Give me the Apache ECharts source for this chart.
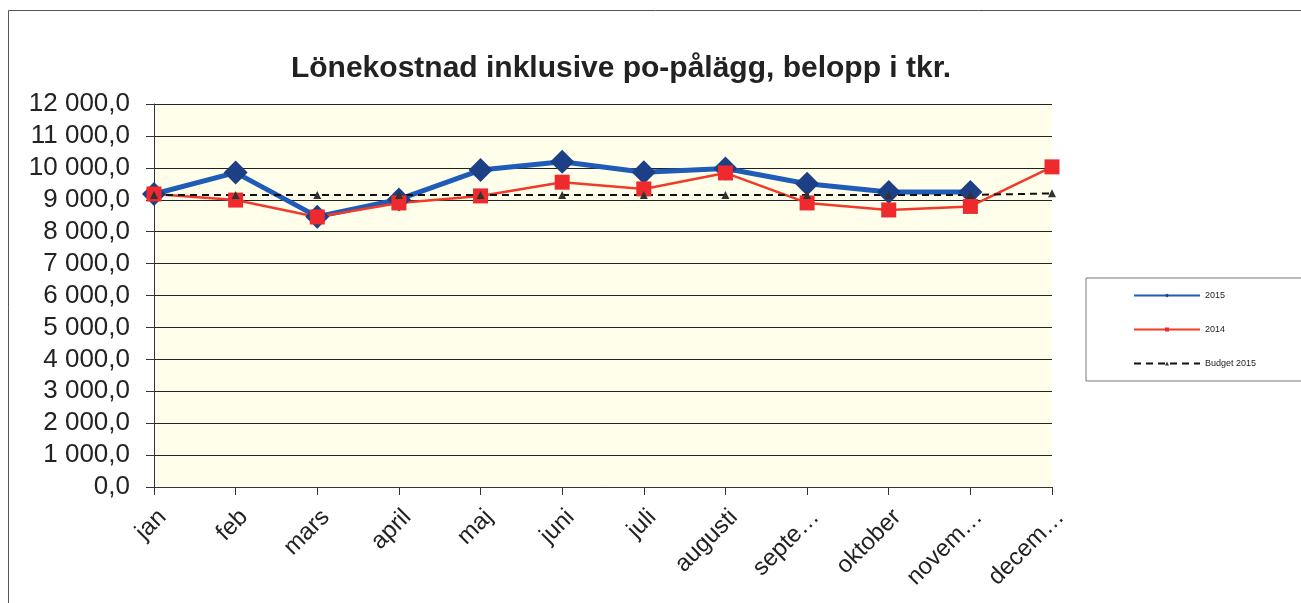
<!DOCTYPE html>
<html>
<head>
<meta charset="utf-8">
<script src="https://cdn.jsdelivr.net/npm/echarts@6/dist/echarts.min.js"></script>
<style>
  html, body { margin: 0; padding: 0; background: #fff; }
  #main { width: 1301px; height: 603px; }
</style>
</head>
<body>
<div id="main"></div>
<script>
// månader (avkortade som i originalet)
var months = ['jan', 'feb', 'mars', 'april', 'maj', 'juni', 'juli', 'augusti', 'septe…', 'oktober', 'novem…', 'decem…'];
var y2015 = [9180, 9850, 8470, 9010, 9930, 10190, 9860, 9980, 9500, 9240, 9240, null];
var y2014 = [9180, 8990, 8460, 8900, 9120, 9550, 9340, 9840, 8900, 8680, 8790, 10030];
var budget2015 = [9150, 9150, 9150, 9150, 9150, 9150, 9150, 9150, 9150, 9150, 9150, 9200];

(function () {
    var myChart = echarts.init(document.querySelector('#main'));

    // 12 000,0
    function fmt(v) {
        var s = String(Math.round(v));
        s = s.replace(/\B(?=(\d{3})+(?!\d))/g, ' ');
        return s + ',0';
    }

    var option = {
        backgroundColor: '#fff',
        animation: false,
        textStyle: { fontFamily: 'Liberation Sans, Arial, sans-serif', color: '#111' },
        title: {
            text: 'Lönekostnad inklusive po-pålägg, belopp i tkr.',
            left: 616,
            textAlign: 'center',
            top: 49,
            textStyle: { fontSize: 30, fontWeight: 'bold', color: '#222' }
        },
        graphic: [{
            type: 'rect',
            shape: { x: 8.5, y: 10.5, width: 1300, height: 600 },
            style: { fill: 'none', stroke: '#555', lineWidth: 1 },
            silent: true
        }],
        legend: {
            orient: 'vertical',
            left: 1086,
            top: 278,
            width: 200,
            padding: [13, 60, 13, 47],
            itemGap: 25,
            itemWidth: 66,
            itemHeight: 5,
            borderColor: '#777',
            borderWidth: 1,
            textStyle: { fontSize: 9, color: '#222' },
            data: ['2015', '2014', 'Budget 2015']
        },
        grid: {
            left: 154,
            right: 249,
            top: 104,
            bottom: 116,
            show: true,
            backgroundColor: '#FEFEEA',
            borderWidth: 0
        },
        xAxis: {
            type: 'category',
            data: months,
            boundaryGap: false,
            axisLine: { lineStyle: { color: '#333', width: 1 } },
            axisTick: { show: true, inside: false, length: 8, alignWithLabel: true, lineStyle: { color: '#333' } },
            axisLabel: { rotate: 45, fontSize: 24, color: '#222', margin: 18, verticalAlign: 'top', interval: 0 },
            splitLine: { show: false }
        },
        yAxis: {
            type: 'value',
            min: 0,
            max: 12000,
            interval: 1000,
            axisLine: { show: true, lineStyle: { color: '#333', width: 1 } },
            axisTick: { show: true, length: 8, lineStyle: { color: '#333' } },
            axisLabel: { fontSize: 26, color: '#222', margin: 24, formatter: fmt },
            splitLine: { lineStyle: { color: '#222', width: 1 } }
        },
        series: [
            {
                name: '2015',
                type: 'line',
                data: y2015,
                symbol: 'diamond',
                symbolSize: 24,
                lineStyle: { color: '#1F5CB8', width: 5 },
                itemStyle: { color: '#1D3F86' }
            },
            {
                name: '2014',
                type: 'line',
                data: y2014,
                symbol: 'rect',
                symbolSize: 15,
                lineStyle: { color: '#F23A2A', width: 2.5 },
                itemStyle: { color: '#EE2A2E' }
            },
            {
                name: 'Budget 2015',
                type: 'line',
                data: budget2015,
                symbol: 'triangle',
                symbolSize: 8,
                lineStyle: { color: '#111', width: 2, type: [7, 5] },
                itemStyle: { color: '#333' }
            }
        ]
    };

    myChart.setOption(option);
    window.addEventListener('resize', function () {
        myChart.resize();
    });
})();
</script>
</body>
</html>
